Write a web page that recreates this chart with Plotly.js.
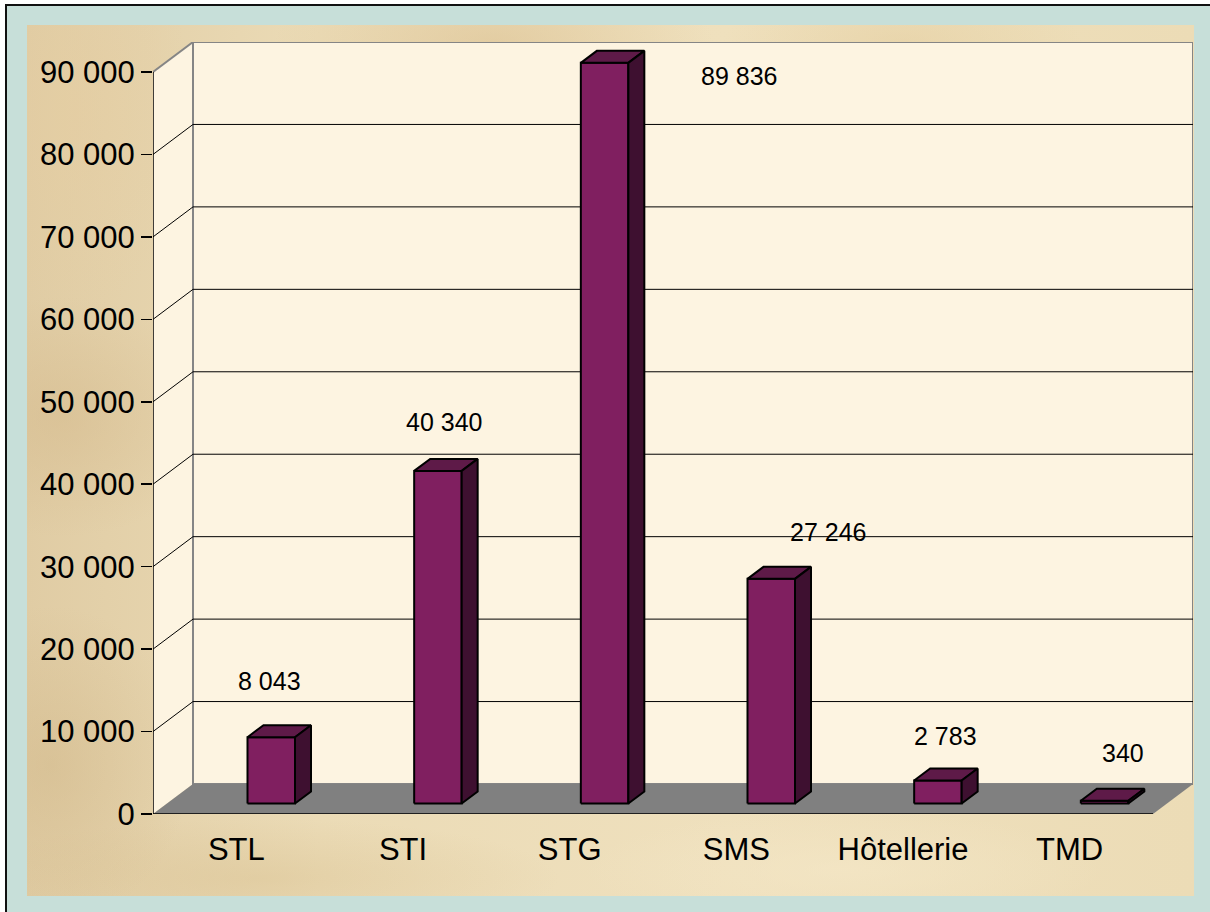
<!DOCTYPE html>
<html>
<head>
<meta charset="utf-8">
<script src="https://cdn.plot.ly/plotly-3.0.1.min.js"></script>
<style>
  html, body { margin: 0; padding: 0; background: #ffffff; }
  #wrap { position: relative; width: 1210px; height: 912px; overflow: hidden; background: #ffffff; }
  #frame { position: absolute; left: 5px; top: 4px; right: 0; bottom: 0; background: #c7dfd9;
           border-top: 2px solid #111; border-left: 2px solid #111; }
  #parch { position: absolute; left: 27px; top: 25px; width: 1167px; height: 871px;
    background:
      radial-gradient(ellipse 160px 120px at 3% 45%, rgba(210,182,135,0.45), rgba(210,182,135,0) 100%),
      radial-gradient(ellipse 140px 160px at 2% 85%, rgba(205,178,130,0.4), rgba(205,178,130,0) 100%),
      radial-gradient(ellipse 220px 80px at 40% 2%, rgba(215,185,135,0.45), rgba(215,185,135,0) 100%),
      radial-gradient(ellipse 180px 60px at 75% 2%, rgba(225,200,150,0.4), rgba(225,200,150,0) 100%),
      radial-gradient(ellipse 300px 60px at 20% 98%, rgba(215,190,140,0.4), rgba(215,190,140,0) 100%),
      radial-gradient(ellipse 260px 60px at 70% 97%, rgba(245,232,200,0.6), rgba(245,232,200,0) 100%),
      radial-gradient(ellipse 120px 200px at 4% 10%, rgba(230,205,160,0.5), rgba(230,205,160,0) 100%),
      linear-gradient(90deg, #e0cca4 0%, #ebdbb6 25%, #efe0bd 60%, #ecdcb6 100%);
  }
  #plot { position: absolute; left: 0; top: 0; width: 1210px; height: 912px; }
</style>
</head>
<body>
<div id="wrap">
  <div id="frame"></div>
  <div id="parch"></div>
  <div id="plot"></div>
</div>
<script>
// ---------- data ----------
const categories = ['STL', 'STI', 'STG', 'SMS', 'Hôtellerie', 'TMD'];
const values = [8043, 40340, 89836, 27246, 2783, 340];
const valueLabels = ['8 043', '40 340', '89 836', '27 246', '2 783', '340'];
const yTickValues = [0, 10000, 20000, 30000, 40000, 50000, 60000, 70000, 80000, 90000];
const yTickLabels = ['0', '10 000', '20 000', '30 000', '40 000', '50 000', '60 000', '70 000', '80 000', '90 000'];

// ---------- geometry / style ----------
const W = 1210, H = 912;
const M = { l: 153, r: 17, t: 42, b: 98 };
const FRONT_W_PX = 1000;            // width of the front axis in px
const VAL_H_PX = 742;               // px for the top tick value
const DEPTH_PX = { x: 40, y: 30 };  // 3D depth of the box
const BAR = { offset: 94.5, width: 47.5, lift: 10.5, dx: 16, dy: 12 };
const LABEL_SHIFT = [[33, 67], [41, 59], [169, -3], [92, 57], [42, 55], [53, 58]];
const FONT = 'Arial, "Liberation Sans", sans-serif';
const COL = { front: '#801f60', top: '#5e1a48', side: '#3e1030', wall: '#fdf4e1', floor: '#808080', border: '#858585' };

const yTop = yTickValues[yTickValues.length - 1];
const ky = yTop / VAL_H_PX;                  // value units per px
const kx = categories.length / FRONT_W_PX;   // category units per px
const DX = DEPTH_PX.x * kx, DY = DEPTH_PX.y * ky;
const x0 = -0.5, x1 = categories.length - 0.5;

// ---------- bars (3 faces each) ----------
const traces = [];
values.forEach((v, i) => {
  const L = i - 0.5 + BAR.offset * kx;
  const R = L + BAR.width * kx;
  const B = BAR.lift * ky;
  const T = B + v;
  const ddx = BAR.dx * kx, ddy = BAR.dy * ky;
  const common = { type: 'scatter', mode: 'lines', fill: 'toself', hoverinfo: 'skip', showlegend: false,
                   line: { color: '#000000', width: 2 } };
  traces.push(Object.assign({}, common, { x: [L, R, R, L, L], y: [B, B, T, T, B], fillcolor: COL.front }));
  traces.push(Object.assign({}, common, { x: [L, R, R + ddx, L + ddx, L], y: [T, T, T + ddy, T + ddy, T], fillcolor: COL.top }));
  traces.push(Object.assign({}, common, { x: [R, R + ddx, R + ddx, R, R], y: [B, B + ddy, T + ddy, T, B], fillcolor: COL.side }));
});

// ---------- box (walls, floor, grid) ----------
const shapes = [];
const P = (pts) => 'M ' + pts.map(p => p[0] + ',' + p[1]).join(' L ') + ' Z';
shapes.push({ type: 'path', layer: 'below', path: P([[x0, 0], [x0, yTop], [x0 + DX, yTop + DY], [x0 + DX, DY]]),
              fillcolor: COL.wall, line: { width: 0 } });
shapes.push({ type: 'rect', layer: 'below', x0: x0 + DX, x1: x1 + DX, y0: DY, y1: yTop + DY,
              fillcolor: COL.wall, line: { color: COL.border, width: 2 } });
shapes.push({ type: 'path', layer: 'below', path: P([[x0, 0], [x1, 0], [x1 + DX, DY], [x0 + DX, DY]]),
              fillcolor: COL.floor, line: { width: 0 } });
yTickValues.forEach(v => {
  if (v === 0) return;
  const isTop = v === yTop;
  const c = isTop ? COL.border : '#000000';
  const w = isTop ? 2 : 1;
  if (!isTop) shapes.push({ type: 'line', layer: 'below', x0: x0 + DX, x1: x1 + DX, y0: v + DY, y1: v + DY, line: { color: c, width: w } });
  shapes.push({ type: 'line', layer: 'below', x0: x0, x1: x0 + DX, y0: v, y1: v + DY, line: { color: c, width: w } });
});
// axis lines
shapes.push({ type: 'line', layer: 'above', x0: x0, x1: x0, y0: 0, y1: yTop, line: { color: '#000000', width: 1.5 } });
shapes.push({ type: 'line', layer: 'above', x0: x0, x1: x1, y0: 0, y1: 0, line: { color: '#000000', width: 1.5 } });
// category boundary ticks
for (let k = 0; k <= categories.length; k++) {
  shapes.push({ type: 'line', layer: 'above', xref: 'x', yref: 'y', x0: k - 0.5, x1: k - 0.5,
                ysizemode: 'pixel', yanchor: 0, y0: 0, y1: -11, line: { color: '#000000', width: 1.5 } });
}

// ---------- value labels ----------
const annotations = values.map((v, i) => ({
  x: i, y: v, xref: 'x', yref: 'y', text: valueLabels[i], showarrow: false,
  xanchor: 'center', yanchor: 'middle', xshift: LABEL_SHIFT[i][0], yshift: LABEL_SHIFT[i][1],
  font: { family: FONT, size: 25, color: '#000000' }
}));

const layout = {
  width: W, height: H, margin: M,
  paper_bgcolor: 'rgba(0,0,0,0)', plot_bgcolor: 'rgba(0,0,0,0)',
  showlegend: false,
  xaxis: { range: [x0, x1 + DX], tickvals: categories.map((c, i) => i), ticktext: categories,
           showgrid: false, zeroline: false, showline: false, ticks: 'outside', ticklen: 8,
           tickcolor: 'rgba(0,0,0,0)', tickfont: { family: FONT, size: 31, color: '#000000' }, fixedrange: true },
  yaxis: { range: [0, yTop + DY], tickvals: yTickValues, ticktext: yTickLabels,
           showgrid: false, zeroline: false, showline: false, ticks: 'outside', ticklen: 11, tickwidth: 1.5,
           tickcolor: '#000000', tickfont: { family: FONT, size: 31, color: '#000000' }, fixedrange: true },
  shapes: shapes, annotations: annotations
};

Plotly.newPlot('plot', traces, layout, { staticPlot: true, displayModeBar: false });
</script>
</body>
</html>
